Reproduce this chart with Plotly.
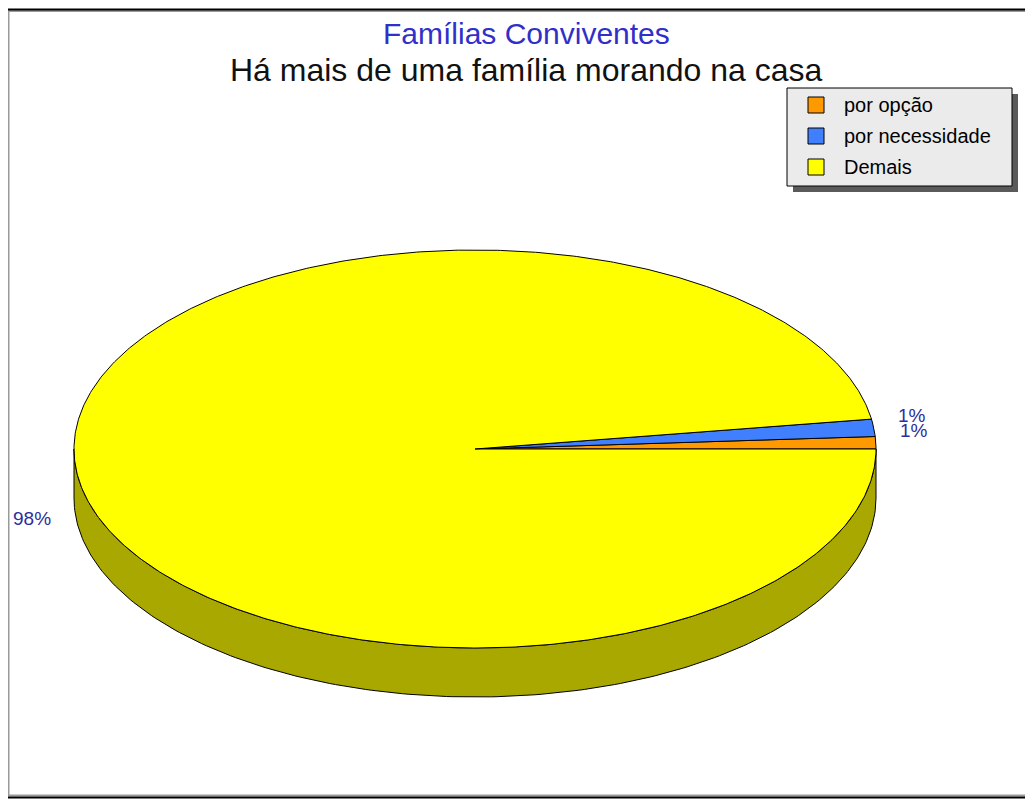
import numpy as np
import plotly.graph_objects as go

# ---- data ----
categories = ["por opção", "por necessidade", "Demais"]
values = [1.0, 1.4, 97.6]
colors = ["#FF9900", "#4080FF", "#FFFF00"]
side_colors = ["#AA6600", "#2A55AA", "#A8A800"]
title_text = "Famílias Conviventes"
subtitle_text = "Há mais de uma família morando na casa"

# ---- geometry / style (pixel space of the page) ----
W, H = 1033, 800
OFF = 8  # page body margin
cx, cy = 475, 449
rx, ry = 401, 199
depth = 49
label_gap = 22
label_drop = 6
FONT = "Liberation Sans, Arial, sans-serif"

total = sum(values)
fracs = [v / total for v in values]
starts = np.cumsum([0] + fracs[:-1]) * 360.0
ends = np.cumsum(fracs) * 360.0


def ept(t_deg, dy=0.0):
    t = np.radians(t_deg)
    return cx + rx * np.cos(t), cy - ry * np.sin(t) + dy


fig = go.Figure()

# sides (visible front half: 180..360 deg)
for i, (a0, a1) in enumerate(zip(starts, ends)):
    s0, s1 = max(a0, 180.0), min(a1, 360.0)
    if s1 <= s0:
        continue
    ts = np.linspace(s0, s1, 200)
    xt, yt = ept(ts)
    xb, yb = ept(ts[::-1], depth)
    xs = np.concatenate([xt, xb, xt[:1]])
    ys = np.concatenate([yt, yb, yt[:1]])
    fig.add_trace(go.Scatter(x=xs, y=ys, mode="lines", fill="toself",
                             fillcolor=side_colors[i],
                             line=dict(color="black", width=1),
                             hoverinfo="skip", showlegend=False))

# top slices
for i, (a0, a1) in enumerate(zip(starts, ends)):
    n = max(3, int((a1 - a0) * 2))
    ts = np.linspace(a0, a1, n)
    xa, ya = ept(ts)
    xs = np.concatenate([[cx], xa, [cx]])
    ys = np.concatenate([[cy], ya, [cy]])
    fig.add_trace(go.Scatter(x=xs, y=ys, mode="lines", fill="toself",
                             fillcolor=colors[i],
                             line=dict(color="black", width=1),
                             name=categories[i],
                             text=f"{categories[i]}: {values[i]:.1f}%",
                             hoveron="fills", hoverinfo="text",
                             showlegend=False))

annotations = []
shapes = []

# percentage labels
for i, (a0, a1) in enumerate(zip(starts, ends)):
    m = (a0 + a1) / 2.0
    px, py = ept(m)
    c = np.cos(np.radians(m))
    s = np.sin(np.radians(m))
    px += label_gap if c >= 0 else -label_gap
    if s < 0:
        py += depth + label_drop
        yanc = "middle"
    else:
        yanc = "bottom"
    annotations.append(dict(
        x=px, y=py, xref="x", yref="y", showarrow=False,
        text=f"{fracs[i] * 100:.0f}%",
        xanchor="left" if c >= 0 else "right", yanchor=yanc,
        font=dict(family=FONT, size=19, color="#2E2E9A")))

# titles
annotations.append(dict(x=526, y=33, xref="x", yref="y", showarrow=False,
                        text=title_text, xanchor="center", yanchor="middle",
                        font=dict(family=FONT, size=30, color="#3030C8")))
annotations.append(dict(x=526, y=70, xref="x", yref="y", showarrow=False,
                        text=subtitle_text, xanchor="center", yanchor="middle",
                        font=dict(family=FONT, size=32, color="#111111")))

# outer frame
shapes.append(dict(type="rect", xref="x", yref="y", x0=8.5, y0=11, x1=W + 20, y1=795.5,
                   line=dict(color="#9A9A9A", width=2), fillcolor="rgba(0,0,0,0)"))
shapes.append(dict(type="rect", xref="x", yref="y", x0=6.5, y0=9.5, x1=W + 20, y1=797.5,
                   line=dict(color="black", width=2), fillcolor="rgba(0,0,0,0)"))

# legend (drawn from categories)
lx0, ly0, lx1, ly1 = 787, 88, 1012, 186
shapes.append(dict(type="rect", xref="x", yref="y", x0=lx0 + 6, y0=ly0 + 6, x1=lx1 + 6, y1=ly1 + 6,
                   line=dict(width=0), fillcolor="#5A5A5A"))
shapes.append(dict(type="rect", xref="x", yref="y", x0=lx0, y0=ly0, x1=lx1, y1=ly1,
                   line=dict(color="black", width=1), fillcolor="#EBEBEB"))
row_h = 31
for i, cat in enumerate(categories):
    yc = ly0 + 17 + i * row_h
    shapes.append(dict(type="rect", xref="x", yref="y", x0=808, y0=yc - 8, x1=824, y1=yc + 8,
                       line=dict(color="black", width=1), fillcolor=colors[i]))
    annotations.append(dict(x=842, y=yc, xref="x", yref="y", showarrow=False,
                            text=cat, xanchor="left", yanchor="middle",
                            font=dict(family=FONT, size=20, color="black")))

fig.update_layout(
    width=W, height=H,
    margin=dict(l=0, r=0, t=0, b=0),
    paper_bgcolor="white", plot_bgcolor="white",
    xaxis=dict(range=[OFF, W + OFF], visible=False, fixedrange=True),
    yaxis=dict(range=[H + OFF, OFF], visible=False, fixedrange=True),
    annotations=annotations, shapes=shapes,
    showlegend=False,
)

fig.write_html("out.html")
